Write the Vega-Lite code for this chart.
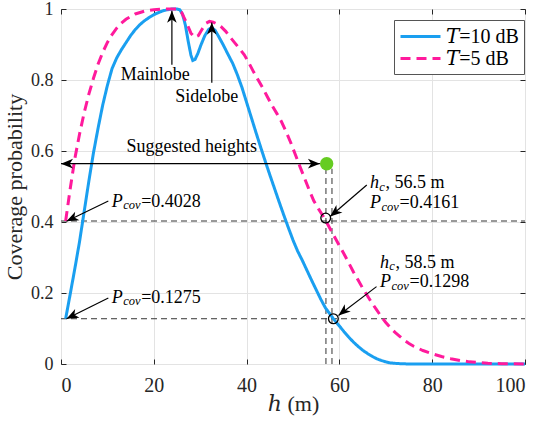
{
  "$schema": "https://vega.github.io/schema/vega-lite/v6.json",
  "width": 464,
  "height": 355,
  "autosize": {"type": "none"},
  "padding": {"left": 61, "top": 9, "right": 15, "bottom": 58},
  "background": "white",
  "datasets": {
    "curves": [
      {"x":1,"y":0.1275,"T":"𝑇=10 dB"},{"x":2,"y":0.198,"T":"𝑇=10 dB"},{"x":3,"y":0.27,"T":"𝑇=10 dB"},{"x":4,"y":0.345,"T":"𝑇=10 dB"},{"x":5,"y":0.43,"T":"𝑇=10 dB"},{"x":6,"y":0.515,"T":"𝑇=10 dB"},{"x":7,"y":0.595,"T":"𝑇=10 dB"},{"x":8,"y":0.665,"T":"𝑇=10 dB"},{"x":9,"y":0.73,"T":"𝑇=10 dB"},{"x":10,"y":0.785,"T":"𝑇=10 dB"},{"x":11,"y":0.832,"T":"𝑇=10 dB"},{"x":12,"y":0.862,"T":"𝑇=10 dB"},{"x":13,"y":0.885,"T":"𝑇=10 dB"},{"x":14,"y":0.905,"T":"𝑇=10 dB"},{"x":15,"y":0.925,"T":"𝑇=10 dB"},{"x":16,"y":0.942,"T":"𝑇=10 dB"},{"x":17,"y":0.956,"T":"𝑇=10 dB"},{"x":18,"y":0.967,"T":"𝑇=10 dB"},{"x":19,"y":0.976,"T":"𝑇=10 dB"},{"x":20,"y":0.984,"T":"𝑇=10 dB"},{"x":21,"y":0.99,"T":"𝑇=10 dB"},{"x":22,"y":0.995,"T":"𝑇=10 dB"},{"x":23,"y":0.998,"T":"𝑇=10 dB"},{"x":24,"y":1.0,"T":"𝑇=10 dB"},{"x":25,"y":1.0,"T":"𝑇=10 dB"},{"x":25.6,"y":0.998,"T":"𝑇=10 dB"},{"x":26.2,"y":0.985,"T":"𝑇=10 dB"},{"x":26.8,"y":0.955,"T":"𝑇=10 dB"},{"x":27.4,"y":0.91,"T":"𝑇=10 dB"},{"x":28,"y":0.87,"T":"𝑇=10 dB"},{"x":28.4,"y":0.855,"T":"𝑇=10 dB"},{"x":28.9,"y":0.858,"T":"𝑇=10 dB"},{"x":29.5,"y":0.875,"T":"𝑇=10 dB"},{"x":30.2,"y":0.9,"T":"𝑇=10 dB"},{"x":31,"y":0.925,"T":"𝑇=10 dB"},{"x":31.8,"y":0.942,"T":"𝑇=10 dB"},{"x":32.5,"y":0.948,"T":"𝑇=10 dB"},{"x":33.2,"y":0.94,"T":"𝑇=10 dB"},{"x":34,"y":0.922,"T":"𝑇=10 dB"},{"x":35,"y":0.898,"T":"𝑇=10 dB"},{"x":36,"y":0.872,"T":"𝑇=10 dB"},{"x":37,"y":0.847,"T":"𝑇=10 dB"},{"x":38,"y":0.815,"T":"𝑇=10 dB"},{"x":39,"y":0.779,"T":"𝑇=10 dB"},{"x":40,"y":0.737,"T":"𝑇=10 dB"},{"x":41,"y":0.695,"T":"𝑇=10 dB"},{"x":42,"y":0.653,"T":"𝑇=10 dB"},{"x":43,"y":0.612,"T":"𝑇=10 dB"},{"x":44,"y":0.572,"T":"𝑇=10 dB"},{"x":45,"y":0.533,"T":"𝑇=10 dB"},{"x":46,"y":0.495,"T":"𝑇=10 dB"},{"x":47,"y":0.457,"T":"𝑇=10 dB"},{"x":48,"y":0.42,"T":"𝑇=10 dB"},{"x":49,"y":0.384,"T":"𝑇=10 dB"},{"x":50,"y":0.349,"T":"𝑇=10 dB"},{"x":51,"y":0.318,"T":"𝑇=10 dB"},{"x":52,"y":0.292,"T":"𝑇=10 dB"},{"x":53,"y":0.264,"T":"𝑇=10 dB"},{"x":54,"y":0.236,"T":"𝑇=10 dB"},{"x":55,"y":0.209,"T":"𝑇=10 dB"},{"x":56,"y":0.182,"T":"𝑇=10 dB"},{"x":57,"y":0.158,"T":"𝑇=10 dB"},{"x":58,"y":0.14,"T":"𝑇=10 dB"},{"x":58.7,"y":0.1275,"T":"𝑇=10 dB"},{"x":60,"y":0.107,"T":"𝑇=10 dB"},{"x":61,"y":0.091,"T":"𝑇=10 dB"},{"x":62,"y":0.076,"T":"𝑇=10 dB"},{"x":63,"y":0.062,"T":"𝑇=10 dB"},{"x":64,"y":0.05,"T":"𝑇=10 dB"},{"x":65,"y":0.039,"T":"𝑇=10 dB"},{"x":66,"y":0.03,"T":"𝑇=10 dB"},{"x":67,"y":0.022,"T":"𝑇=10 dB"},{"x":68,"y":0.015,"T":"𝑇=10 dB"},{"x":69,"y":0.01,"T":"𝑇=10 dB"},{"x":70,"y":0.006,"T":"𝑇=10 dB"},{"x":71,"y":0.003,"T":"𝑇=10 dB"},{"x":72,"y":0.002,"T":"𝑇=10 dB"},{"x":73,"y":0.001,"T":"𝑇=10 dB"},{"x":75,"y":0,"T":"𝑇=10 dB"},{"x":80,"y":0,"T":"𝑇=10 dB"},{"x":90,"y":0,"T":"𝑇=10 dB"},{"x":100,"y":0,"T":"𝑇=10 dB"},
      {"x":1,"y":0.4028,"T":"𝑇=5 dB"},{"x":2,"y":0.495,"T":"𝑇=5 dB"},{"x":3,"y":0.58,"T":"𝑇=5 dB"},{"x":4,"y":0.648,"T":"𝑇=5 dB"},{"x":5,"y":0.708,"T":"𝑇=5 dB"},{"x":6,"y":0.76,"T":"𝑇=5 dB"},{"x":7,"y":0.805,"T":"𝑇=5 dB"},{"x":8,"y":0.845,"T":"𝑇=5 dB"},{"x":9,"y":0.878,"T":"𝑇=5 dB"},{"x":10,"y":0.906,"T":"𝑇=5 dB"},{"x":11,"y":0.928,"T":"𝑇=5 dB"},{"x":12,"y":0.946,"T":"𝑇=5 dB"},{"x":13,"y":0.96,"T":"𝑇=5 dB"},{"x":14,"y":0.971,"T":"𝑇=5 dB"},{"x":16,"y":0.986,"T":"𝑇=5 dB"},{"x":18,"y":0.994,"T":"𝑇=5 dB"},{"x":20,"y":0.998,"T":"𝑇=5 dB"},{"x":22,"y":1.0,"T":"𝑇=5 dB"},{"x":25,"y":1.0,"T":"𝑇=5 dB"},{"x":26,"y":0.99,"T":"𝑇=5 dB"},{"x":27,"y":0.963,"T":"𝑇=5 dB"},{"x":28,"y":0.932,"T":"𝑇=5 dB"},{"x":28.8,"y":0.92,"T":"𝑇=5 dB"},{"x":29.6,"y":0.925,"T":"𝑇=5 dB"},{"x":30.5,"y":0.945,"T":"𝑇=5 dB"},{"x":31.3,"y":0.96,"T":"𝑇=5 dB"},{"x":32,"y":0.965,"T":"𝑇=5 dB"},{"x":32.8,"y":0.963,"T":"𝑇=5 dB"},{"x":33.6,"y":0.958,"T":"𝑇=5 dB"},{"x":34.5,"y":0.95,"T":"𝑇=5 dB"},{"x":35.5,"y":0.937,"T":"𝑇=5 dB"},{"x":36.5,"y":0.92,"T":"𝑇=5 dB"},{"x":37.5,"y":0.904,"T":"𝑇=5 dB"},{"x":38.5,"y":0.888,"T":"𝑇=5 dB"},{"x":39.5,"y":0.871,"T":"𝑇=5 dB"},{"x":40.5,"y":0.848,"T":"𝑇=5 dB"},{"x":41.5,"y":0.823,"T":"𝑇=5 dB"},{"x":42.5,"y":0.8,"T":"𝑇=5 dB"},{"x":43.5,"y":0.777,"T":"𝑇=5 dB"},{"x":44.5,"y":0.752,"T":"𝑇=5 dB"},{"x":45.5,"y":0.728,"T":"𝑇=5 dB"},{"x":46.5,"y":0.706,"T":"𝑇=5 dB"},{"x":47.5,"y":0.683,"T":"𝑇=5 dB"},{"x":48.5,"y":0.655,"T":"𝑇=5 dB"},{"x":49.5,"y":0.624,"T":"𝑇=5 dB"},{"x":50.5,"y":0.59,"T":"𝑇=5 dB"},{"x":51.5,"y":0.556,"T":"𝑇=5 dB"},{"x":52.5,"y":0.523,"T":"𝑇=5 dB"},{"x":53.5,"y":0.49,"T":"𝑇=5 dB"},{"x":54.5,"y":0.459,"T":"𝑇=5 dB"},{"x":55.5,"y":0.437,"T":"𝑇=5 dB"},{"x":56.5,"y":0.4161,"T":"𝑇=5 dB"},{"x":57,"y":0.405,"T":"𝑇=5 dB"},{"x":58,"y":0.381,"T":"𝑇=5 dB"},{"x":59,"y":0.357,"T":"𝑇=5 dB"},{"x":60,"y":0.333,"T":"𝑇=5 dB"},{"x":61,"y":0.31,"T":"𝑇=5 dB"},{"x":62,"y":0.285,"T":"𝑇=5 dB"},{"x":63,"y":0.26,"T":"𝑇=5 dB"},{"x":64,"y":0.237,"T":"𝑇=5 dB"},{"x":65,"y":0.214,"T":"𝑇=5 dB"},{"x":66,"y":0.193,"T":"𝑇=5 dB"},{"x":67,"y":0.172,"T":"𝑇=5 dB"},{"x":68,"y":0.153,"T":"𝑇=5 dB"},{"x":69,"y":0.134,"T":"𝑇=5 dB"},{"x":70,"y":0.117,"T":"𝑇=5 dB"},{"x":71,"y":0.102,"T":"𝑇=5 dB"},{"x":72,"y":0.089,"T":"𝑇=5 dB"},{"x":73,"y":0.078,"T":"𝑇=5 dB"},{"x":74,"y":0.067,"T":"𝑇=5 dB"},{"x":75,"y":0.058,"T":"𝑇=5 dB"},{"x":76,"y":0.05,"T":"𝑇=5 dB"},{"x":78,"y":0.038,"T":"𝑇=5 dB"},{"x":80,"y":0.029,"T":"𝑇=5 dB"},{"x":82,"y":0.021,"T":"𝑇=5 dB"},{"x":84,"y":0.015,"T":"𝑇=5 dB"},{"x":86,"y":0.01,"T":"𝑇=5 dB"},{"x":88,"y":0.006,"T":"𝑇=5 dB"},{"x":90,"y":0.004,"T":"𝑇=5 dB"},{"x":92,"y":0.002,"T":"𝑇=5 dB"},{"x":95,"y":0.001,"T":"𝑇=5 dB"},{"x":100,"y":0,"T":"𝑇=5 dB"}
    ],
    "refs": [
      {"x":0,"y":0.4028,"x2":100,"y2":0.4028},
      {"x":0,"y":0.1275,"x2":100,"y2":0.1275},
      {"x":57.1,"y":0,"x2":57.1,"y2":0.55},
      {"x":58.4,"y":0,"x2":58.4,"y2":0.55}
    ],
    "arrows": [
      {"x":23.9,"y":0.843,"x2":23.9,"y2":0.995},
      {"x":32.5,"y":0.792,"x2":32.5,"y2":0.962},
      {"x":0,"y":0.5643,"x2":55.8,"y2":0.5643},
      {"x":10.2,"y":0.459,"x2":1.2,"y2":0.402},
      {"x":10.2,"y":0.186,"x2":1.2,"y2":0.1275},
      {"x":65.9,"y":0.504,"x2":58.0,"y2":0.4156},
      {"x":68.0,"y":0.218,"x2":59.8,"y2":0.1367}
    ],
    "heads": [
      {"x":23.9,"y":0.995,"dir":"up"},
      {"x":32.5,"y":0.962,"dir":"up"},
      {"x":0,"y":0.5643,"dir":"left"},
      {"x":55.8,"y":0.5643,"dir":"right"},
      {"x":1.2,"y":0.402,"dir":"pcov"},
      {"x":1.2,"y":0.1275,"dir":"pcov"},
      {"x":58.0,"y":0.4156,"dir":"hc"},
      {"x":59.8,"y":0.1367,"dir":"hc"}
    ],
    "circles": [
      {"x":57.05,"y":0.411},
      {"x":58.7,"y":0.1275}
    ],
    "dot": [
      {"x":57.26,"y":0.5643}
    ],
    "notes": [
      {"x":20.3,"y":0.813,"label":"Mainlobe"},
      {"x":31.4,"y":0.752,"label":"Sidelobe"},
      {"x":28.2,"y":0.612,"label":"Suggested heights"}
    ],
    "plabels": [
      {"x":10.93,"y":0.457,"main":"P","sub":"cov","rest":"=0.4028"},
      {"x":10.93,"y":0.187,"main":"P","sub":"cov","rest":"=0.1275"},
      {"x":66.6,"y":0.4527,"main":"P","sub":"cov","rest":"=0.4161"},
      {"x":68.75,"y":0.2296,"main":"P","sub":"cov","rest":"=0.1298"}
    ],
    "hlabels": [
      {"x":66.6,"y":0.5085,"main":"h","sub":"c","rest":", 56.5 m"},
      {"x":68.75,"y":0.2854,"main":"h","sub":"c","rest":", 58.5 m"}
    ]
  },
  "encoding": {
    "x": {"field": "x", "type": "quantitative", "scale": {"domain": [0, 100], "nice": false, "zero": false}, "axis": null},
    "y": {"field": "y", "type": "quantitative", "scale": {"domain": [0, 1], "nice": false, "zero": false}, "axis": null}
  },
  "layer": [
    {
      "data": {"name": "refs"},
      "mark": {"type": "rule", "strokeDash": [6, 4], "strokeWidth": 1, "color": "#333333"},
      "encoding": {
        "x": {"field": "x", "type": "quantitative", "scale": {"domain": [0, 100], "nice": false, "zero": false},
              "axis": {"orient": "top", "values": [0, 20, 40, 60, 80, 100], "labels": false, "title": null, "grid": false}},
        "y": {"field": "y", "type": "quantitative", "scale": {"domain": [0, 1], "nice": false, "zero": false},
              "axis": {"orient": "right", "values": [0, 0.2, 0.4, 0.6, 0.8, 1], "labels": false, "title": null, "grid": false}},
        "x2": {"field": "x2"},
        "y2": {"field": "y2"}
      }
    },
    {
      "data": {"name": "curves"},
      "mark": {"type": "line", "strokeWidth": 3},
      "encoding": {
        "x": {"field": "x", "type": "quantitative", "scale": {"domain": [0, 100], "nice": false, "zero": false},
              "axis": {"orient": "bottom", "values": [0, 20, 40, 60, 80, 100], "format": "d", "title": "ℎ (m)", "grid": true,
                       "labelFont": "Liberation Serif, DejaVu Serif", "labelFontSize": 20, "titleFont": "Liberation Serif, DejaVu Serif", "labelPadding": 16, "titlePadding": -2}},
        "y": {"field": "y", "type": "quantitative", "scale": {"domain": [0, 1], "nice": false, "zero": false},
              "axis": {"orient": "left", "values": [0, 0.2, 0.4, 0.6, 0.8, 1], "format": ".1~f", "title": "Coverage probability", "grid": true,
                       "labelFont": "Liberation Serif, DejaVu Serif", "labelFontSize": 18, "titleFont": "Liberation Serif, DejaVu Serif", "labelPadding": 13, "titlePadding": 4}},
        "color": {"field": "T", "type": "nominal", "scale": {"domain": ["𝑇=10 dB", "𝑇=5 dB"], "range": ["#1a9ff0", "#ff1a9c"]},
                  "legend": {"title": null, "labelFont": "Liberation Serif, DejaVu Serif", "labelFontSize": 20, "symbolType": "M-1,0L3,0", "symbolSize": 400, "symbolStrokeWidth": 3, "labelOffset": 24, "rowPadding": 0, "padding": 5, "orient": "none", "legendX": 333, "legendY": 11}},
        "strokeDash": {"field": "T", "type": "nominal", "scale": {"domain": ["𝑇=10 dB", "𝑇=5 dB"], "range": [[1, 0], [10, 6]]},
                  "legend": {"title": null, "labelFont": "Liberation Serif, DejaVu Serif", "labelFontSize": 20, "symbolType": "M-1,0L3,0", "symbolSize": 400, "symbolStrokeWidth": 3, "labelOffset": 24, "rowPadding": 0, "padding": 5, "orient": "none", "legendX": 333, "legendY": 11}}
      }
    },
    {
      "data": {"name": "arrows"},
      "mark": {"type": "rule", "strokeWidth": 1.2, "color": "black"},
      "encoding": {"x2": {"field": "x2"}, "y2": {"field": "y2"}}
    },
    {
      "data": {"name": "heads"},
      "mark": {"type": "point", "filled": true, "color": "black", "size": 144, "strokeWidth": 0, "opacity": 1},
      "encoding": {
        "shape": {"field": "dir", "type": "nominal", "legend": null,
                  "scale": {"domain": ["up", "left", "right", "pcov", "hc"],
                            "range": ["M0,0L0.8,2L0,1.45L-0.8,2Z", "M0,0L2,-0.8L1.45,0L2,0.8Z", "M0,0L-2,0.8L-1.45,0L-2,-0.8Z", "M0,0L1.43,-1.61L1.3,-0.65L2.15,-0.17Z", "M0,0L1.04,-1.89L1.12,-0.92L2.05,-0.65Z"]}}
      }
    },
    {
      "data": {"name": "circles"},
      "mark": {"type": "point", "shape": "circle", "filled": false, "stroke": "black", "strokeWidth": 1.3, "size": 95, "opacity": 1},
      "encoding": {}
    },
    {
      "data": {"name": "dot"},
      "mark": {"type": "point", "shape": "circle", "filled": true, "color": "#66cc22", "size": 180, "opacity": 1},
      "encoding": {}
    },
    {
      "data": {"name": "notes"},
      "mark": {"type": "text", "align": "center", "baseline": "middle", "fontSize": 18, "color": "black"},
      "encoding": {"text": {"field": "label"}}
    },
    {
      "data": {"name": "plabels"},
      "mark": {"type": "text", "align": "left", "baseline": "middle", "fontSize": 18, "fontStyle": "italic", "color": "black"},
      "encoding": {"text": {"field": "main"}}
    },
    {
      "data": {"name": "plabels"},
      "mark": {"type": "text", "align": "left", "baseline": "middle", "fontSize": 12.5, "fontStyle": "italic", "color": "black", "dx": 11.5, "dy": 3.5},
      "encoding": {"text": {"field": "sub"}}
    },
    {
      "data": {"name": "plabels"},
      "mark": {"type": "text", "align": "left", "baseline": "middle", "fontSize": 18, "color": "black", "dx": 29.5},
      "encoding": {"text": {"field": "rest"}}
    },
    {
      "data": {"name": "hlabels"},
      "mark": {"type": "text", "align": "left", "baseline": "middle", "fontSize": 18, "fontStyle": "italic", "color": "black"},
      "encoding": {"text": {"field": "main"}}
    },
    {
      "data": {"name": "hlabels"},
      "mark": {"type": "text", "align": "left", "baseline": "middle", "fontSize": 12.5, "fontStyle": "italic", "color": "black", "dx": 9.3, "dy": 3.5},
      "encoding": {"text": {"field": "sub"}}
    },
    {
      "data": {"name": "hlabels"},
      "mark": {"type": "text", "align": "left", "baseline": "middle", "fontSize": 18, "color": "black", "dx": 15.5},
      "encoding": {"text": {"field": "rest"}}
    }
  ],
  "config": {
    "font": "Liberation Serif",
    "view": {"stroke": "#262626", "strokeWidth": 1},
    "text": {"font": "Liberation Serif"},
    "axis": {
      "labelFont": "Liberation Serif", "labelFontSize": 19, "labelColor": "#262626",
      "titleFont": "Liberation Serif", "titleFontSize": 22, "titleFontWeight": "normal", "titleColor": "#262626",
      "gridColor": "#e3e3e3", "gridWidth": 1, "domain": false,
      "tickColor": "#262626", "tickSize": -5, "tickWidth": 1
    },
    "legend": {
      "fillColor": "white", "strokeColor": "#555555",
      "labelFont": "Liberation Serif", "labelFontSize": 20, "labelColor": "black"
    }
  }
}
